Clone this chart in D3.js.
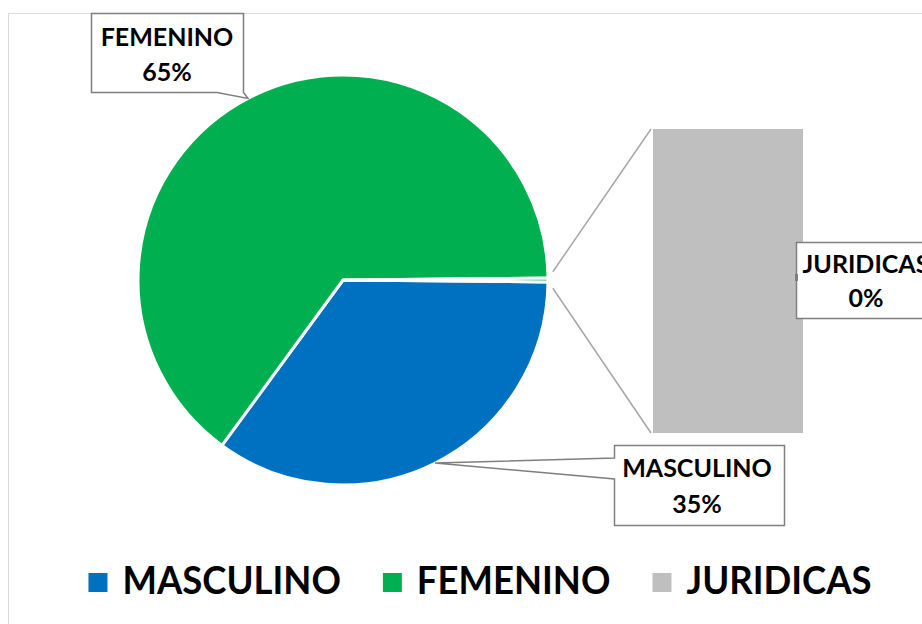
<!DOCTYPE html>
<html>

<head>
    <title>Distribución por género</title>
    <script src="https://d3js.org/d3.v7.min.js"></script>
    <style>
        body { margin: 0; background: #fff; }
        svg text { font-family: Lato, "Open Sans", sans-serif; font-weight: bold; fill: #000; }
    </style>
</head>

<body>
    <svg width="922" height="624"></svg>

    <script>
        // data
        var categories = ["MASCULINO", "FEMENINO", "JURIDICAS"];
        var values = [34.9, 64.8, 0.3];
        var pctLabels = ["35%", "65%", "0%"];
        var colors = ["#0070c0", "#00b050", "#bfbfbf"];

        var svg = d3.select("svg");

        // chart area border
        svg.append("rect")
            .attr("x", 8.5).attr("y", 13.5)
            .attr("width", 960).attr("height", 700)
            .attr("fill", "none")
            .attr("stroke", "#d9d9d9");

        var total = d3.sum(values);
        var cx = 343, cy = 280, r = 205;

        // the "other" slice is centred at 3 o'clock like Excel pie-of-bar
        var pie = d3.pie().sort(null)
            .startAngle(Math.PI / 2 + values[2] / total * Math.PI)
            .endAngle(Math.PI / 2 + values[2] / total * Math.PI + 2 * Math.PI);
        var arcs = pie(values);
        var arc = d3.arc().innerRadius(0).outerRadius(r);

        var g = svg.append("g").attr("transform", "translate(" + cx + "," + cy + ")");
        g.selectAll("path")
            .data(arcs)
            .enter().append("path")
            .attr("d", arc)
            .attr("fill", function (d, i) { return i == 2 ? colors[1] : colors[i]; })
            .attr("stroke", "#fff")
            .attr("stroke-width", 3)
            .attr("stroke-linejoin", "round");

        // bar of the small slice
        var barY = d3.scaleLinear().domain([0, values[2]]).range([433, 129]);
        var barX0 = 653, barW = 150;
        svg.append("rect")
            .attr("x", barX0)
            .attr("y", barY(values[2]))
            .attr("width", barW)
            .attr("height", barY(0) - barY(values[2]))
            .attr("fill", colors[2]);

        // connector lines from the slice to the bar
        var sl = arcs[2];
        var pTop = [cx + Math.sin(sl.startAngle - 0.03) * (r + 5), cy - Math.cos(sl.startAngle - 0.03) * (r + 5)];
        var pBot = [cx + Math.sin(sl.endAngle + 0.03) * (r + 5), cy - Math.cos(sl.endAngle + 0.03) * (r + 5)];
        svg.append("line")
            .attr("x1", pTop[0]).attr("y1", pTop[1])
            .attr("x2", barX0 - 2).attr("y2", barY(values[2]))
            .attr("stroke", "#a6a6a6").attr("stroke-width", 1.5);
        svg.append("line")
            .attr("x1", pBot[0]).attr("y1", pBot[1])
            .attr("x2", barX0 - 2).attr("y2", barY(0))
            .attr("stroke", "#a6a6a6").attr("stroke-width", 1.5);

        // callout labels
        var callouts = [
            { i: 1, path: "M91.5,13.5 H243.5 V92.5 L248,98.5 L217,92.5 H91.5 Z", tx: 167, ty: [46, 81] },
            { i: 0, path: "M614.5,445.5 H784.5 V525.5 H614.5 V479 L435,463 L614.5,458 Z", tx: 697, ty: [477, 513] },
            { i: 2, path: "M796.5,242.5 H940 V318.5 H796.5 Z", tx: 866, ty: [273, 307] }
        ];
        callouts.forEach(function (c) {
            svg.append("path")
                .attr("d", c.path)
                .attr("fill", "#fff")
                .attr("stroke", "#7f7f7f")
                .attr("stroke-width", 1.5);
            svg.append("text")
                .attr("x", c.tx).attr("y", c.ty[0])
                .attr("text-anchor", "middle")
                .attr("font-size", 25)
                .text(categories[c.i]);
            svg.append("text")
                .attr("x", c.tx).attr("y", c.ty[1])
                .attr("text-anchor", "middle")
                .attr("font-size", 25)
                .text(pctLabels[c.i]);
        });
        // small tick on the JURIDICAS box
        svg.append("line")
            .attr("x1", 796.5).attr("y1", 274).attr("x2", 796.5).attr("y2", 281)
            .attr("stroke", "#7f7f7f").attr("stroke-width", 3);

        // legend
        var legend = svg.append("g");
        var items = legend.selectAll("g")
            .data(categories)
            .enter().append("g");
        items.append("rect")
            .attr("width", 19).attr("height", 19)
            .attr("y", 573)
            .attr("fill", function (d, i) { return colors[i]; });
        items.append("text")
            .attr("x", 34).attr("y", 594)
            .attr("font-size", 38)
            .text(function (d) { return d; });
        var x = 0;
        items.each(function () {
            var t = this.querySelector("text");
            var w = t.getComputedTextLength() * 0.96;
            d3.select(t).attr("textLength", w).attr("lengthAdjust", "spacingAndGlyphs");
            d3.select(this).attr("transform", "translate(" + x + ",0)");
            x += 34 + w + 42;
        });
        var legW = x - 42;
        legend.attr("transform", "translate(" + (480 - legW / 2) + ",0)");
    </script>
</body>

</html>
